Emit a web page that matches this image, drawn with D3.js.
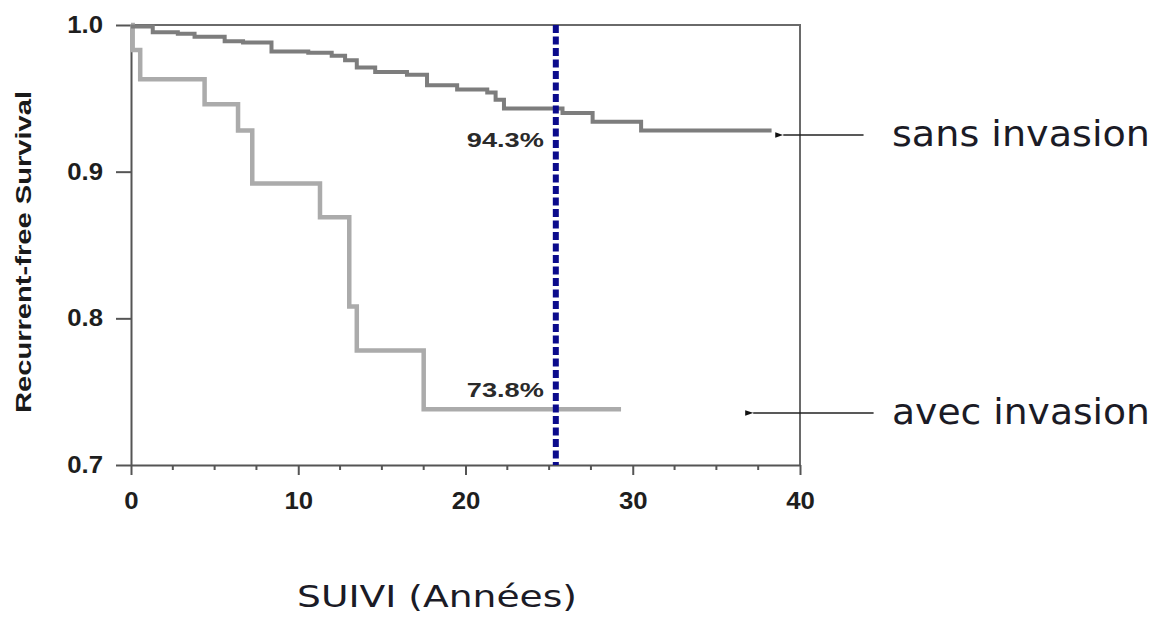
<!DOCTYPE html>
<html>
<head>
<meta charset="utf-8">
<script src="https://cdn.jsdelivr.net/npm/d3@7"></script>
<style>
  body { margin: 0; background: #fff; }
  svg { display: block; }
</style>
</head>
<body>
<svg width="1157" height="619"></svg>
<script>
// survival curves (years, survival)
var sansTimes = [0, 1.3, 2.8, 3.8, 5.6, 6.7, 8.4, 10.6, 12.0, 12.8, 13.5, 14.6, 16.5, 17.7, 19.5, 21.3, 21.8, 22.3, 25.8, 27.6, 30.5, 38.3];
var sansSurv  = [0.999, 0.995, 0.994, 0.992, 0.989, 0.988, 0.982, 0.981, 0.979, 0.976, 0.971, 0.968, 0.966, 0.959, 0.956, 0.954, 0.949, 0.943, 0.940, 0.934, 0.928, 0.928];
var avecTimes = [0, 0.1, 0.55, 4.4, 6.4, 7.25, 11.3, 13.05, 13.5, 17.5, 29.3];
var avecSurv  = [1.0, 0.983, 0.963, 0.946, 0.928, 0.892, 0.869, 0.808, 0.778, 0.738, 0.738];

var xTicks = [0, 10, 20, 30, 40];
var xMinor = [2.5, 5, 7.5, 12.5, 15, 17.5, 22.5, 25, 27.5, 32.5, 35, 37.5];
var yTicks = [0.7, 0.8, 0.9, 1.0];

var cutoff = 25.4;
var pctLabels = ["94.3%", "73.8%"];
var pctValues = [0.943, 0.738];
var seriesNames = ["sans invasion", "avec invasion"];
// arrow: [tip year, tail year, survival level]
var arrows = [[39.0, 43.8, 0.925], [37.2, 44.4, 0.7355]];

var svg = d3.select("svg");

var x = d3.scaleLinear().domain([0, 40]).range([131, 800]);
var y = d3.scaleLinear().domain([0.7, 1.0]).range([465, 25]);

// frame top and right
svg.append("path")
   .attr("d", "M" + x(0) + "," + y(1) + "H" + x(40) + "V" + y(0.7))
   .attr("fill", "none")
   .attr("stroke", "#6a6a6a")
   .attr("stroke-width", 2);

// x axis
var xAxis = svg.append("g")
   .attr("transform", "translate(0," + y(0.7) + ")")
   .call(d3.axisBottom(x).tickValues(xTicks).tickSize(10).tickSizeOuter(0).tickPadding(18).tickFormat(d3.format("d")));

svg.append("g")
   .attr("transform", "translate(0," + y(0.7) + ")")
   .selectAll("line")
   .data(xMinor)
   .enter().append("line")
   .attr("x1", function(d) { return x(d); })
   .attr("x2", function(d) { return x(d); })
   .attr("y1", 0)
   .attr("y2", 5)
   .attr("stroke", "#555")
   .attr("stroke-width", 2);

// y axis
var yAxis = svg.append("g")
   .attr("transform", "translate(" + x(0) + ",0)")
   .call(d3.axisLeft(y).tickValues(yTicks).tickSize(15).tickSizeOuter(0).tickPadding(13).tickFormat(d3.format(".1f")));

[xAxis, yAxis].forEach(function(ax) {
  ax.attr("font-size", 23).attr("font-family", "'Liberation Sans', Arial, sans-serif");
  ax.select(".domain").attr("stroke", "#555").attr("stroke-width", 2);
  ax.selectAll(".tick line").attr("stroke", "#555").attr("stroke-width", 2);
  ax.selectAll(".tick text")
    .attr("fill", "#1e1e1e")
    .attr("font-weight", "bold")
    .each(function() {
      this.setAttribute("textLength", this.getComputedTextLength() * 1.12);
      this.setAttribute("lengthAdjust", "spacingAndGlyphs");
    });
});

// curves
var line = d3.line()
   .x(function(d) { return x(d[0]); })
   .y(function(d) { return y(d[1]); })
   .curve(d3.curveStepAfter);

svg.append("path")
   .datum(d3.zip(avecTimes, avecSurv))
   .attr("d", line)
   .attr("fill", "none")
   .attr("stroke", "#ababab")
   .attr("stroke-width", 4.5);

svg.append("path")
   .datum(d3.zip(sansTimes, sansSurv))
   .attr("d", line)
   .attr("fill", "none")
   .attr("stroke", "#7d7d7d")
   .attr("stroke-width", 4);

// cutoff line
svg.append("line")
   .attr("x1", x(cutoff)).attr("x2", x(cutoff))
   .attr("y1", y(1)).attr("y2", y(0.7))
   .attr("stroke", "#0b0b8c")
   .attr("stroke-width", 6)
   .attr("stroke-dasharray", "8,3.5");

// percent labels
svg.selectAll(".pct")
   .data(pctLabels)
   .enter().append("text")
   .attr("class", "pct")
   .attr("x", x(cutoff) - 12)
   .attr("y", function(d, i) { return i === 0 ? y(pctValues[i]) + 38 : y(pctValues[i]) - 12; })
   .attr("text-anchor", "end")
   .attr("fill", "#2a2a2a")
   .style("font-family", "'Liberation Sans', Arial, sans-serif")
   .style("font-size", "20px")
   .style("font-weight", "bold")
   .attr("textLength", 77)
   .attr("lengthAdjust", "spacingAndGlyphs")
   .text(function(d) { return d; });

// arrows and series names
svg.append("defs").append("marker")
   .attr("id", "head")
   .attr("viewBox", "0 0 10 10")
   .attr("refX", 0).attr("refY", 5)
   .attr("markerWidth", 8).attr("markerHeight", 8)
   .attr("markerUnits", "userSpaceOnUse")
   .attr("orient", "auto-start-reverse")
   .append("path")
   .attr("d", "M0,5L10,1.5L10,8.5Z")
   .attr("fill", "#111");

svg.selectAll(".arrow")
   .data(arrows)
   .enter().append("line")
   .attr("class", "arrow")
   .attr("x1", function(d) { return x(d[0]); })
   .attr("x2", function(d) { return x(d[1]); })
   .attr("y1", function(d) { return y(d[2]); })
   .attr("y2", function(d) { return y(d[2]); })
   .attr("stroke", "#222")
   .attr("stroke-width", 1.5)
   .attr("marker-start", "url(#head)");

svg.selectAll(".name")
   .data(seriesNames)
   .enter().append("text")
   .attr("class", "name")
   .attr("x", 892)
   .attr("y", function(d, i) { return y(arrows[i][2]) + 11; })
   .attr("fill", "#1b1b26")
   .style("font-family", "'DejaVu Sans', sans-serif")
   .style("font-size", "35px")
   .attr("textLength", 258)
   .attr("lengthAdjust", "spacingAndGlyphs")
   .text(function(d) { return d; });

// axis titles
svg.append("text")
   .attr("transform", "translate(31,252) rotate(-90)")
   .attr("text-anchor", "middle")
   .attr("fill", "#1a1a1a")
   .style("font-family", "'Liberation Sans', Arial, sans-serif")
   .style("font-size", "22px")
   .style("font-weight", "bold")
   .attr("textLength", 322)
   .attr("lengthAdjust", "spacingAndGlyphs")
   .text("Recurrent-free Survival");

svg.append("text")
   .attr("x", 297)
   .attr("y", 607)
   .attr("fill", "#1b1b26")
   .style("font-family", "'DejaVu Sans', sans-serif")
   .style("font-size", "30px")
   .attr("textLength", 280)
   .attr("lengthAdjust", "spacingAndGlyphs")
   .text("SUIVI (Années)");
</script>
</body>
</html>
